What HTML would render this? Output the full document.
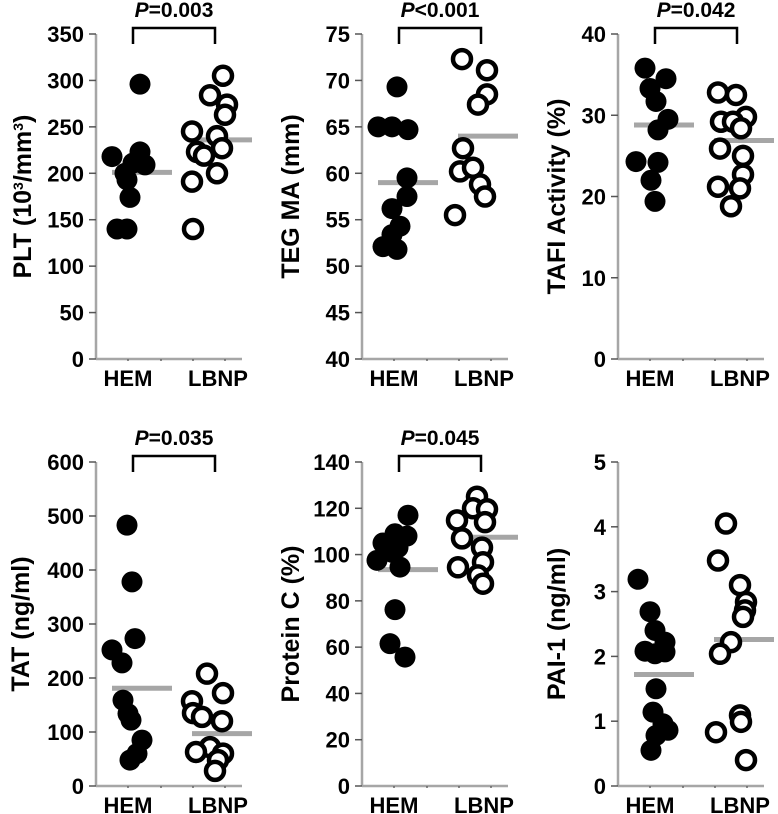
<!DOCTYPE html>
<html><head><meta charset="utf-8">
<style>
body{margin:0;background:#fff;}
svg{display:block;font-family:"Liberation Sans",Arial,sans-serif;font-weight:bold;}
</style></head>
<body>
<svg id="chart" width="778" height="814" viewBox="0 0 778 814" xmlns="http://www.w3.org/2000/svg"></svg>
<script>
// Panel 1: PLT
const pltHem = [296,218,223,211,209,200,193,174,140,140];
const pltHemJit = [44,16,44,37,49,29,31,34,21,31];
const pltLbnp = [305,284,274,263,245,240,227,223,219,200,191,140];
const pltLbnpJit = [127,114,131,129,96,121,126,101,108,121,96,97];
const pltMeans = [201,236];
const pltTicks = [0,50,100,150,200,250,300,350];
// Panel 2: TEG MA
const tegHem = [69.3,65.0,65.0,64.7,59.5,57.5,56.2,54.3,53.4,52.1,51.8];
const tegHemJit = [35,16,30,46,45,45,30,38,30,21,35];
const tegLbnp = [72.3,71.1,68.5,67.4,62.7,60.2,60.6,58.8,57.5,55.5];
const tegLbnpJit = [100,125,125,116,101,98,111,118,123,93];
const tegMeans = [59,64];
const tegTicks = [40,45,50,55,60,65,70,75];
// Panel 3: TAFI
const tafiHem = [35.8,34.5,33.3,31.7,29.5,28.2,24.3,24.2,22.0,19.4];
const tafiHemJit = [27,48,32,38,50,40,18,40,33,37];
const tafiLbnp = [32.8,32.5,29.8,29.2,29.2,28.4,25.9,25.0,22.7,21.2,21.0,18.8];
const tafiLbnpJit = [100,118,128,103,115,123,102,125,125,100,122,113];
const tafiMeans = [28.8,26.9];
const tafiTicks = [0,10,20,30,40];
// Panel 4: TAT
const tatHem = [483,378,273,252,228,159,134,122,85,60,48];
const tatHemJit = [31,36,39,16,26,27,32,35,46,41,34];
const tatLbnp = [208,172,157,135,128,120,72,63,60,48,28];
const tatLbnpJit = [111,127,96,97,106,126,114,100,127,122,119];
const tatMeans = [181,97];
const tatTicks = [0,100,200,300,400,500,600];
// Panel 5: Protein C
const pcHem = [117,109,108,105,103,101,97.5,94.6,76.2,61.5,55.7];
const pcHemJit = [46,33,45,21,36,30,15,38,33,28,43];
const pcLbnp = [125,120,119.6,114.8,114,107,103,96.7,94.5,91,87.4];
const pcLbnpJit = [115,111,125,95,123,100,120,121,96,116,121];
const pcMeans = [93.5,107.5];
const pcTicks = [0,20,40,60,80,100,120,140];
// Panel 6: PAI-1
const paiHem = [3.19,2.69,2.40,2.22,2.07,2.08,2.04,1.50,1.14,0.96,0.86,0.78,0.55];
const paiHemJit = [20,32,37,47,47,27,37,38,35,45,50,38,33];
const paiLbnp = [4.05,3.48,3.10,2.84,2.71,2.61,2.22,2.04,1.09,0.99,0.83,0.40];
const paiLbnpJit = [108,100,122,128,127,125,113,102,122,123,98,128];
const paiMeans = [1.72,2.26];
const paiTicks = [0,1,2,3,4,5];

const NS = "http://www.w3.org/2000/svg";
const svg = document.getElementById('chart');
function mk(tag, attrs, parent){
  const e = document.createElementNS(NS, tag);
  for (const k in attrs) e.setAttribute(k, attrs[k]);
  (parent||svg).appendChild(e);
  return e;
}

const panels = [
  {id:'plt', ax:96, top:34, bot:359, min:0, max:350, ticks:pltTicks, hem:pltHem, hj:pltHemJit, lb:pltLbnp, lj:pltLbnpJit, means:pltMeans, p:'=0.003', lx:-74, title:'PLT (10<tspan baseline-shift="super" font-size="14">3</tspan>/mm<tspan baseline-shift="super" font-size="14">3</tspan>)'},
  {id:'teg', ax:362, top:34, bot:359, min:40, max:75, ticks:tegTicks, hem:tegHem, hj:tegHemJit, lb:tegLbnp, lj:tegLbnpJit, means:tegMeans, p:'<0.001', lx:-72, title:'TEG MA (mm)'},
  {id:'tafi', ax:618, top:34, bot:359, min:0, max:40, ticks:tafiTicks, hem:tafiHem, hj:tafiHemJit, lb:tafiLbnp, lj:tafiLbnpJit, means:tafiMeans, p:'=0.042', lx:-62, title:'TAFI Activity (%)'},
  {id:'tat', ax:96, top:462, bot:786, min:0, max:600, ticks:tatTicks, hem:tatHem, hj:tatHemJit, lb:tatLbnp, lj:tatLbnpJit, means:tatMeans, p:'=0.035', lx:-76, title:'TAT (ng/ml)'},
  {id:'protein-c', ax:362, top:462, bot:786, min:0, max:140, ticks:pcTicks, hem:pcHem, hj:pcHemJit, lb:pcLbnp, lj:pcLbnpJit, means:pcMeans, p:'=0.045', lx:-72, title:'Protein C (%)'},
  {id:'pai-1', ax:618, top:462, bot:786, min:0, max:5, ticks:paiTicks, hem:paiHem, hj:paiHemJit, lb:paiLbnp, lj:paiLbnpJit, means:paiMeans, p:null, lx:-62, title:'PAI-1 (ng/ml)'}
];

panels.forEach(P => {
  const g = mk('g', {});
  
  
  const y = v => P.bot - (v - P.min) / (P.max - P.min) * (P.bot - P.top);
  const ax = P.ax;
  const yl = mk('line', {x1:ax, y1:P.top, x2:ax, y2:P.bot, stroke:'#a6a6a6', 'stroke-width':2.5}, g);
  
  
  const xl = mk('line', {x1:ax, y1:P.bot, x2:ax+146, y2:P.bot, stroke:'#a6a6a6', 'stroke-width':2.5}, g);
  
  
  [32,65,97,129].forEach(d => mk('line', {x1:ax+d, y1:P.bot, x2:ax+d, y2:P.bot+2, stroke:'#666', 'stroke-width':1.5}, g));
  P.ticks.forEach(t => {
    mk('line', {x1:ax-7, y1:y(t), x2:ax, y2:y(t), stroke:'#555', 'stroke-width':1.5}, g);
    const tl = mk('text', {x:ax-12, y:y(t)+8, 'text-anchor':'end', 'font-size':22}, g);
    tl.textContent = t;
    
    
  });
  const cy = (P.top + P.bot) / 2;
  const yt = mk('text', {x:ax+P.lx, y:cy, 'text-anchor':'middle', 'font-size':25, transform:`rotate(-90 ${ax+P.lx} ${cy})`, dy:9}, g);
  yt.innerHTML = P.title;
  
  
  [['HEM',32],['LBNP',122]].forEach(([s,d]) => {
    const xt = mk('text', {x:ax+d, y:P.bot+27, 'text-anchor':'middle', 'font-size':22}, g);
    xt.textContent = s;
    
    
  });
  [[P.means[0],16],[P.means[1],96]].forEach(([m,d], i) => {
    const ml = mk('line', {x1:ax+d, y1:y(m), x2:ax+d+60, y2:y(m), stroke:'#a6a6a6', 'stroke-width':5}, g);
    
    
  });
  P.hem.forEach((v,i) => {
    const c = mk('circle', {cx:ax+P.hj[i], cy:y(v), r:10.5, fill:'#000'}, g);
    
    
  });
  P.lb.forEach((v,i) => {
    const c = mk('circle', {cx:ax+P.lj[i], cy:y(v), r:9, fill:'#fff', stroke:'#000', 'stroke-width':4.5}, g);
    
    
  });
  if (P.p) {
    const bt = P.top - 6;
    const br = mk('path', {d:`M${ax+37} ${bt+16} V${bt} H${ax+119} V${bt+16}`, fill:'none', stroke:'#000', 'stroke-width':2.5}, g);
    
    
    const pt = mk('text', {x:ax+78, y:bt-11, 'text-anchor':'middle', 'font-size':21}, g);
    pt.innerHTML = '<tspan font-style="italic">P</tspan>' + P.p.replace('<','&lt;');
    
    
  }
});
</script>
</body></html>
